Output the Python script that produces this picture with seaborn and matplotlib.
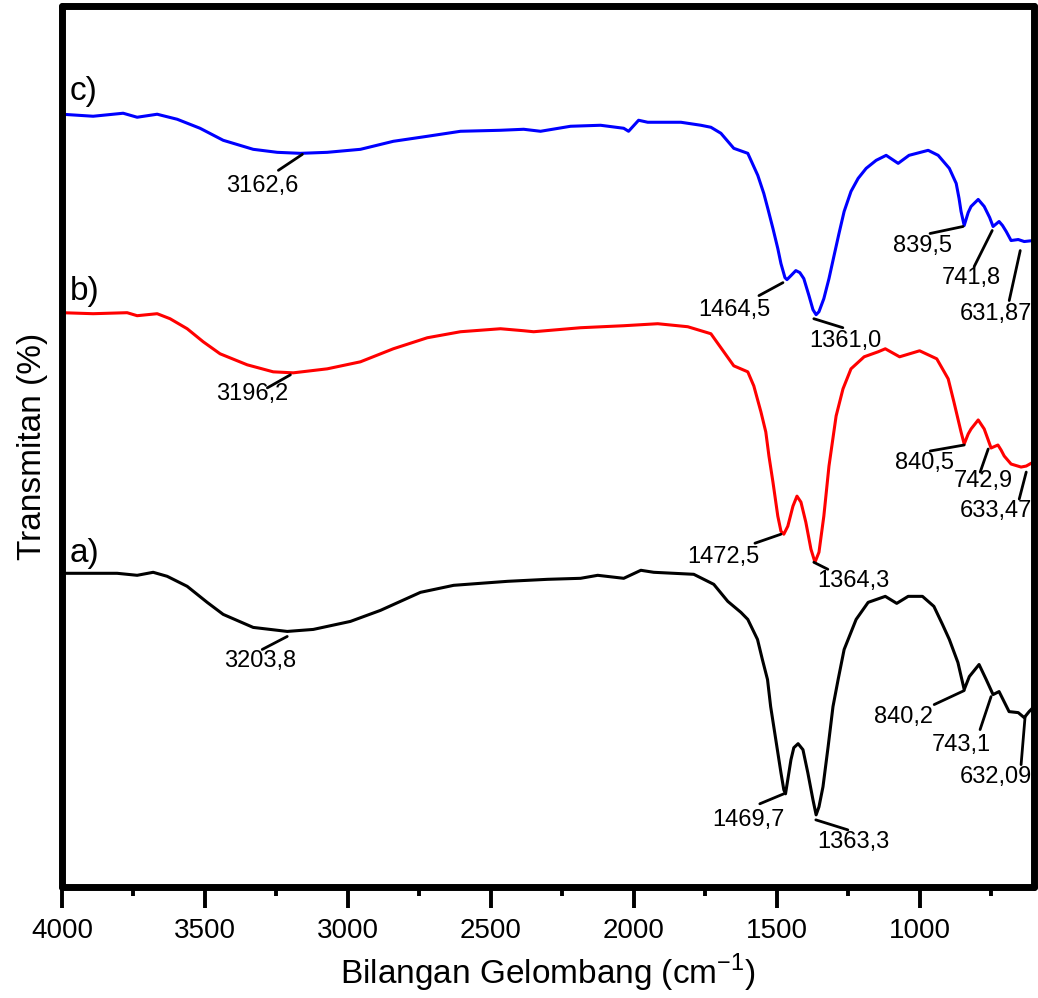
import numpy as np
import pandas as pd
import seaborn as sns
import matplotlib.pyplot as plt
from matplotlib.ticker import MultipleLocator

# spektrum c) (biru)
wn_c = [4000, 3891, 3786, 3737, 3667, 3597, 3517, 3436, 3331, 3247, 3166, 3072, 2956, 2841,
        2722, 2606, 2466, 2385, 2326, 2221, 2116, 2035, 2018, 1983, 1951, 1835, 1765, 1730,
        1695, 1671, 1650, 1601, 1566, 1545, 1531, 1513, 1496, 1485, 1471, 1464, 1450, 1433,
        1419, 1405, 1387, 1373, 1362, 1352, 1335, 1317, 1300, 1282, 1264, 1240, 1215, 1187,
        1152, 1117, 1075, 1037, 970, 935, 896, 872, 862, 855, 844, 830, 820, 795, 774, 755,
        743, 722, 710, 697, 680, 655, 634, 602]
t_c = [771, 769, 772, 768, 771, 766, 757, 745, 736, 733, 732, 733, 736, 744,
       749, 754, 755, 756, 754, 759, 760, 757, 754, 765, 763, 763, 760, 758,
       752, 744, 737, 732, 710, 692, 677, 657, 637, 622, 608, 606, 610, 615,
       613, 607, 590, 576, 571, 574, 587, 607, 629, 652, 674, 694, 707, 717,
       725, 730, 722, 730, 735, 730, 717, 702, 687, 674, 660, 673, 679, 686, 679, 668,
       659, 664, 660, 654, 645, 646, 644, 645]

# spektrum b) (merah)
wn_b = [4000, 3891, 3772, 3737, 3667, 3622, 3562, 3506, 3447, 3352, 3261, 3191, 3072, 2956,
        2841, 2722, 2606, 2466, 2385, 2350, 2186, 2035, 1916, 1811, 1730, 1685, 1650, 1601,
        1580, 1555, 1538, 1527, 1513, 1496, 1485, 1475, 1461, 1443, 1429, 1415, 1398, 1380,
        1366, 1352, 1335, 1317, 1292, 1268, 1240, 1194, 1145, 1120, 1070, 1000, 940, 900,
        880, 855, 844, 830, 820, 795, 774, 760, 750, 726, 715, 704, 680, 645, 627, 602]
t_b = [573, 572, 573, 570, 572, 567, 557, 544, 532, 521, 514, 513, 517, 524,
       537, 548, 554, 557, 555, 554, 558, 560, 562, 559, 552, 534, 520, 514,
       500, 474, 454, 430, 404, 370, 355, 352, 360, 380, 390, 384, 364, 337,
       324, 334, 370, 420, 470, 497, 517, 529, 534, 537, 529, 535, 527, 507,
       484, 454, 442, 452, 457, 466, 457, 446, 438, 441, 436, 430, 422, 419, 420, 424]

# spektrum a) (hitam)
wn_a = [4000, 3807, 3737, 3681, 3632, 3562, 3492, 3436, 3331, 3212, 3121, 2991, 2886, 2746,
        2630, 2536, 2441, 2301, 2186, 2126, 2035, 1975, 1930, 1790, 1720, 1671, 1625, 1601,
        1567, 1550, 1532, 1521, 1503, 1485, 1475, 1469, 1450, 1440, 1425, 1408, 1391, 1373,
        1362, 1352, 1338, 1320, 1303, 1285, 1264, 1222, 1180, 1120, 1080, 1040, 990, 950,
        920, 896, 866, 844, 826, 792, 767, 743, 722, 687, 655, 634, 617, 600]
t_a = [313, 313, 311, 314, 310, 300, 284, 272, 259, 255, 257, 265, 276, 294,
       301, 303, 305, 307, 308, 311, 308, 316, 314, 312, 302, 285, 274, 267,
       247, 227, 207, 180, 147, 114, 97, 93, 127, 139, 143, 137, 114, 87,
       72, 80, 100, 140, 180, 207, 237, 267, 284, 290, 283, 290, 290, 280,
       262, 247, 224, 197, 210, 222, 207, 192, 195, 175, 174, 169, 175, 180]

# label puncak: teks, bilangan gelombang, transmitan, ujung garis (px), posisi teks (px)
peak_labels = ['3162,6', '1464,5', '1361,0', '839,5', '741,8', '631,87',
               '3196,2', '1472,5', '1364,3', '840,5', '742,9', '633,47',
               '3203,8', '1469,7', '1363,3', '840,2', '743,1', '632,09']
peak_wn = [3159, 1478, 1370, 848, 746, 648,
           3201, 1485, 1370, 844, 760, 627,
           3212, 1475, 1363, 844, 750, 631]
peak_t = [731, 603, 567, 659, 655, 635,
          511, 352, 324, 441, 437, 414,
          250, 93, 67, 196, 190, 170]
line_end = [(-24, -16), (-24, -13), (29, -9), (-33, -7), (-18, -36), (-11, -50),
            (-23, -13), (-26, -9), (14, -7), (-34, -6), (-8, -23), (-7, -27),
            (-25, -13), (-24, -10), (32, -10), (-30, -14), (-11, -33), (-4, -48)]
text_pos = [(-40, -32), (-49, -27), (32, -22), (-41, -20), (-21, -47), (-24, -63),
            (-38, -19), (-58, -23), (40, -19), (-40, -18), (-5, -32), (-30, -39),
            (-27, -25), (-35, -26), (38, -22), (-61, -26), (-30, -48), (-29, -60)]

df = pd.concat([
    pd.DataFrame({'wn': wn_a, 'T': t_a, 'sampel': 'a'}),
    pd.DataFrame({'wn': wn_b, 'T': t_b, 'sampel': 'b'}),
    pd.DataFrame({'wn': wn_c, 'T': t_c, 'sampel': 'c'}),
])

sns.set_theme(style='white')
plt.rcParams['font.family'] = ['Liberation Sans', 'DejaVu Sans']
plt.rcParams['text.color'] = 'black'
plt.rcParams['axes.labelcolor'] = 'black'
plt.rcParams['xtick.color'] = 'black'

fig = plt.figure(figsize=(10.38, 9.98), dpi=100)
ax = fig.add_axes([0.0597, 0.1112, 0.9364, 0.8828])

sns.lineplot(data=df, x='wn', y='T', hue='sampel', palette={'a': 'black', 'b': '#ff0000', 'c': '#0000ff'},
             estimator=None, sort=False, legend=False, lw=2.2, ax=ax)
for ln in ax.lines:
    ln.set_solid_joinstyle('round')

ax.set_xlim(4000, 600)
ax.set_ylim(0, 879)
ax.xaxis.set_major_locator(MultipleLocator(500))
ax.xaxis.set_minor_locator(MultipleLocator(250))
ax.set_yticks([])
ax.tick_params(axis='x', which='major', direction='out', length=15, width=2.8, labelsize=20, pad=7,
               bottom=True, colors='black')
ax.tick_params(axis='x', which='minor', direction='out', length=6.5, width=2.8, bottom=True, colors='black')
for sp in ax.spines.values():
    sp.set_linewidth(5)
    sp.set_color('black')
    sp.set_capstyle('round')

ax.set_xlabel('Bilangan Gelombang (cm$^{\\mathregular{-1}}$)', fontsize=24, labelpad=6)
ax.set_ylabel('Transmitan (%)', fontsize=24, labelpad=10)

for lbl, yy in zip(['c)', 'b)', 'a)'], [0.903, 0.676, 0.378]):
    ax.text(0.008, yy, lbl, transform=ax.transAxes, fontsize=24, ha='left', va='center')

for lbl, w, t, le, tp in zip(peak_labels, peak_wn, peak_t, line_end, text_pos):
    ax.annotate('', xy=(w, t), xytext=le, textcoords='offset pixels',
                arrowprops=dict(arrowstyle='-', color='black', lw=2, shrinkA=0, shrinkB=0))
    ax.annotate(lbl, xy=(w, t), xytext=tp, textcoords='offset pixels',
                ha='center', va='center', fontsize=17)

fig.savefig('out.png', dpi=100)
